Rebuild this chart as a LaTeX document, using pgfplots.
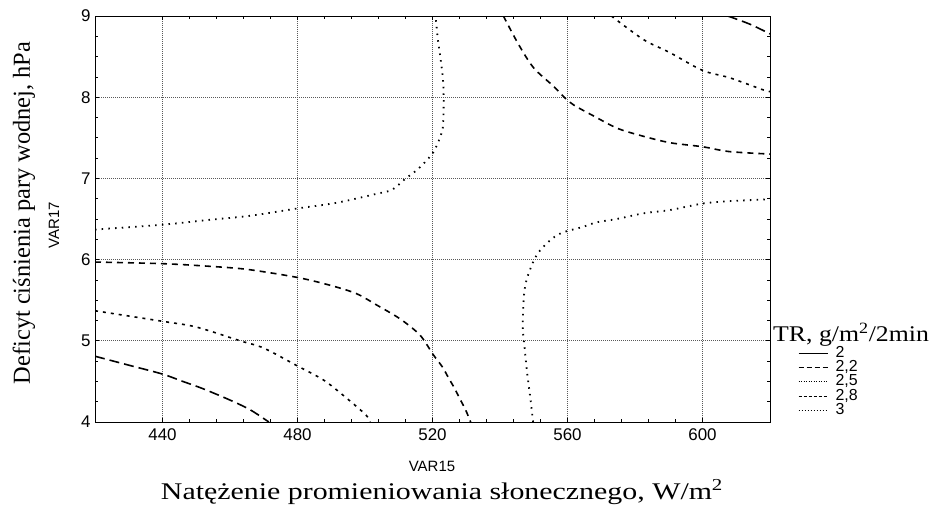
\documentclass[border=0pt]{standalone}
\usepackage{fontspec}
\setmainfont{Liberation Serif}
\setsansfont{Liberation Sans}
\usepackage{pgfplots}
\pgfplotsset{compat=1.18}

% line styles of the contour levels
\tikzset{
  lvlA/.style={black, line width=1.6bp, dash pattern=on 10bp off 5bp},
  lvlB/.style={black, line width=1.6bp, dash pattern=on 6bp off 5bp},
  lvlC/.style={black, line width=1.6bp, dash pattern=on 3bp off 5bp},
  lvlD/.style={black, line width=1.8bp, dash pattern=on 1.5bp off 5.2bp},
}

\begin{document}
\begin{tikzpicture}
\begin{axis}[
    at={(95bp,-422bp)}, anchor=south west,
    scale only axis, width=675bp, height=406bp,
    xmin=420, xmax=620, ymin=4, ymax=9,
    xtick={440,480,...,600}, ytick={4,...,9},
    minor x tick num=4, minor y tick num=3,
    tick align=inside, tick pos=both,
    major tick length=4bp, minor tick length=3bp,
    grid=major,
    grid style={black!65, line width=0.7bp, dash pattern=on 0.8bp off 1.2bp},
    axis line style={line width=1bp},
    tick style={black, line width=0.8bp},
    ticklabel style={font=\fontsize{17}{17}\sffamily},
    xticklabel style={yshift=-3bp},
    yticklabel style={xshift=-1bp},
    /pgf/number format/assume math mode=true,
    legend style={at={(1.0415,0.187)}, anchor=north west, draw=none, fill=none,
      inner sep=0pt, font=\fontsize{16}{16}\sffamily, row sep=0pt,
      /tikz/every odd column/.append style={column sep=7bp},
      nodes={inner sep=0.5bp, text height=10.8bp, text depth=2.4bp}},
    legend cell align=left,
    legend image code/.code={\draw[#1] (0bp,0bp) -- (29bp,0bp);},
]
\addlegendimage{black, line width=0.9bp}
\addlegendentry{2}
\addlegendimage{black, line width=0.9bp, dash pattern=on 5bp off 3bp}
\addlegendentry{2,2}
\addlegendimage{black, line width=0.9bp, dash pattern=on 1bp off 1.5bp}
\addlegendentry{2,5}
\addlegendimage{black, line width=0.9bp, dash pattern=on 3bp off 2bp}
\addlegendentry{2,8}
\addlegendimage{black, line width=0.9bp, dash pattern=on 1bp off 2bp}
\addlegendentry{3}

% long dash
\addplot[lvlA, smooth, forget plot] coordinates {
  (420,4.81) (430,4.70) (440,4.59) (446,4.50) (452,4.41) (460,4.27) (466,4.15) (471.5,4.0)
};
\addplot[lvlA, smooth, forget plot] coordinates {
  (607.5,9.0) (614,8.90) (620,8.78)
};
% medium dash
\addplot[lvlB, smooth, forget plot] coordinates {
  (420,5.97) (440,5.95) (453,5.92) (465,5.88) (480,5.78) (490,5.68) (497.5,5.58)
  (503.5,5.44) (510.4,5.27) (516.3,5.07) (520.2,4.83) (522.9,4.68) (524.8,4.54)
  (526.6,4.41) (528.3,4.27) (529.8,4.15) (531.3,4.0)
};
\addplot[lvlB, smooth, forget plot] coordinates {
  (541,9.0) (545.5,8.65) (550,8.36) (556,8.13) (559,8.0) (562,7.90) (567.7,7.77)
  (574.6,7.62) (581.5,7.53) (590.3,7.44) (600,7.39) (608,7.33) (620,7.30)
};
% short dash
\addplot[lvlC, smooth, forget plot] coordinates {
  (420,5.37) (440,5.24) (450,5.17) (463,5.0) (470,4.91) (480,4.69) (487.6,4.52)
  (493.5,4.33) (500.2,4.09) (501.5,4.0)
};
\addplot[lvlC, smooth, forget plot] coordinates {
  (573,9.0) (582.5,8.71) (590.3,8.55) (600,8.33) (608,8.24) (618,8.09) (620,8.07)
};
% dotted
\addplot[lvlD, smooth, forget plot] coordinates {
  (420,6.37) (440,6.43) (454,6.49) (466,6.54) (480,6.63) (491.6,6.70) (503.4,6.81)
  (508,6.86) (511.8,6.99) (515.8,7.12) (520.2,7.32) (522.7,7.56) (523.2,7.71)
  (523.3,8.0) (523.1,8.22) (522.4,8.47) (521.6,8.71) (520.9,9.0)
};
\addplot[lvlD, smooth, forget plot] coordinates {
  (549.8,4.0) (549,4.29) (548,4.62) (547.3,4.91) (546.8,5.11) (546.8,5.32)
  (547.2,5.60) (548,5.77) (549.4,5.93) (550.4,6.02) (551.6,6.10) (554.9,6.24)
  (558.3,6.33) (564.3,6.40) (568.7,6.46) (574.6,6.50) (582.5,6.57) (590.3,6.61)
  (600,6.69) (608,6.72) (618,6.74) (620,6.75)
};
\end{axis}

\node[font=\fontsize{15}{15}\sffamily] at (432bp,-466bp) {VAR15};
\node[anchor=base, xscale=1.25, font=\fontsize{24}{24}\selectfont] at (442bp,-499bp)
  {Natężenie promieniowania słonecznego, W/m\textsuperscript{2}};
\node[rotate=90, font=\fontsize{24.5}{24.5}\selectfont] at (24bp,-213bp)
  {Deficyt ciśnienia pary wodnej, hPa};
\node[rotate=90, font=\fontsize{15}{15}\sffamily] at (54bp,-225bp) {VAR17};
\node[anchor=base west, inner sep=0pt, xscale=1.15, font=\fontsize{22.5}{22.5}\selectfont]
  at (773bp,-341bp) {TR, g/m\textsuperscript{2}/2min};

\pgfresetboundingbox
\path (0bp,0bp) rectangle (932bp,-506bp);
\end{tikzpicture}
\end{document}
